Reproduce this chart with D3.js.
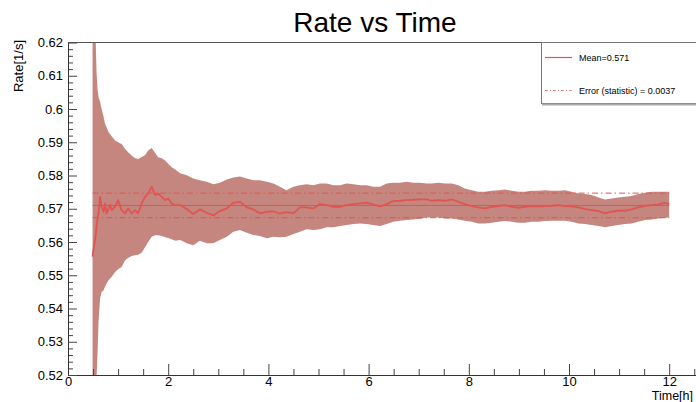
<!DOCTYPE html>
<html>
<head>
<meta charset="utf-8">
<script src="https://cdn.jsdelivr.net/npm/d3@7"></script>
<style>
  html, body { margin: 0; padding: 0; background: #fff; }
  svg { display: block; }
  text { font-family: "Liberation Sans", Arial, Helvetica, sans-serif; fill: #000; }
</style>
</head>
<body>
<script>
// Running mean of the count rate versus elapsed time, with its statistical band
const time = [
  0.49,0.52,0.55,0.57,0.59,0.61,0.64,0.67,0.71,0.74,0.77,0.81,0.84,0.87,0.94,1.00,1.07,1.14,1.20,1.27,
  1.34,1.40,1.47,1.54,1.60,1.67,1.74,1.80,1.87,1.94,2.00,2.07,2.14,
  2.24,2.37,2.50,2.63,2.77,2.90,3.03,3.17,3.30,3.43,3.57,3.70,3.83,3.97,4.10,4.23,4.36,4.50,4.63,4.76,
  4.90,5.03,5.16,5.30,5.43,5.56,5.70,5.83,5.96,6.09,6.23,6.36,6.49,6.63,6.76,6.89,7.03,7.16,
  7.26,7.39,7.53,7.66,7.79,7.92,8.06,8.19,8.32,8.46,8.59,8.72,8.86,8.99,9.12,9.25,9.39,9.52,9.65,9.79,
  9.92,10.05,10.19,10.32,10.45,10.59,10.72,10.85,10.98,11.12,11.25,11.38,11.52,11.65,11.78,11.92,12.00
];
const rate = [
  .5556,.5590,.5615,.5646,.5670,.5690,.5736,.5706,.5691,.5716,.5686,.5701,.5712,.5696,.5706,.5726,.5696,.5686,.5701,.5686,
  .5696,.5686,.5716,.5736,.5746,.5766,.5741,.5746,.5736,.5726,.5731,.5716,.5711,
  .5711,.5699,.5684,.5698,.5688,.5680,.5693,.5701,.5718,.5721,.5704,.5698,.5686,.5691,.5692,.5685,.5690,.5686,.5704,.5704,
  .5701,.5714,.5711,.5706,.5706,.5711,.5714,.5716,.5718,.5713,.5707,.5714,.5723,.5724,.5726,.5727,.5728,.5728,
  .5724,.5726,.5724,.5728,.5721,.5714,.5708,.5704,.5701,.5706,.5708,.5711,.5706,.5703,.5706,.5708,.5707,.5708,.5709,.5711,
  .5708,.5707,.5704,.5699,.5696,.5693,.5686,.5691,.5694,.5694,.5698,.5704,.5709,.5711,.5713,.5718,.5714
];
const rateHigh = [
  .640,.635,.622,.611,.606,.6035,.6022,.6000,.5977,.5955,.5945,.5930,.5925,.5918,.5905,.5900,.5895,.5880,.5870,.5860,
  .5852,.5850,.5856,.5862,.5875,.5883,.5868,.5855,.5852,.5845,.5835,.5825,.5818,
  .5807,.5801,.5791,.5786,.5781,.5774,.5778,.5788,.5794,.5797,.5791,.5786,.5786,.5781,.5776,.5766,.5756,.5766,.5771,.5774,
  .5771,.5776,.5776,.5771,.5771,.5776,.5774,.5771,.5771,.5766,.5766,.5776,.5778,.5778,.5781,.5778,.5778,.5776,
  .5776,.5778,.5776,.5776,.5771,.5761,.5756,.5751,.5751,.5754,.5756,.5758,.5754,.5751,.5751,.5754,.5754,.5756,.5754,.5754,
  .5756,.5751,.5746,.5744,.5741,.5734,.5728,.5731,.5734,.5736,.5738,.5744,.5748,.5751,.5751,.5751,.5751
];
const rateLow = [
  .505,.508,.512,.519,.527,.536,.543,.545,.5455,.5466,.5475,.5485,.549,.5495,.551,.5518,.5525,.5545,.5552,.5558,
  .5560,.5562,.5568,.5585,.5600,.5616,.5620,.5620,.5618,.5614,.5612,.5608,.5604,
  .5606,.5596,.5590,.5604,.5596,.5596,.5606,.5616,.5631,.5636,.5628,.5621,.5618,.5611,.5616,.5614,.5616,.5624,.5631,.5638,
  .5636,.5638,.5644,.5644,.5648,.5651,.5654,.5656,.5654,.5651,.5648,.5654,.5661,.5664,.5666,.5668,.5670,.5674,
  .5674,.5674,.5671,.5671,.5668,.5664,.5661,.5656,.5656,.5658,.5661,.5663,.5661,.5658,.5658,.5661,.5661,.5663,.5664,.5664,
  .5664,.5661,.5656,.5654,.5651,.5648,.5644,.5648,.5651,.5654,.5656,.5661,.5666,.5668,.5671,.5673,.5674
];
const meanValue = 0.571;
const statError = 0.0037;
const xTicks = [0, 2, 4, 6, 8, 10, 12];
const yTicks = [0.52, 0.53, 0.54, 0.55, 0.56, 0.57, 0.58, 0.59, 0.60, 0.61, 0.62];
const yTickLabels = ["0.52", "0.53", "0.54", "0.55", "0.56", "0.57", "0.58", "0.59", "0.6", "0.61", "0.62"];
const titleText = "Rate vs Time";
const xTitle = "Time[h]";
const yTitle = "Rate[1/s]";
const legendLabels = ["Mean=0.571", "Error (statistic) = 0.0037"];

const W = 696, H = 402;
const plotLeft = 68, plotTop = 42.5, plotBottom = 375;
const bandColor = "#c4867f";
const lineColor = "#e05550";

const svg = d3.select("body").append("svg").attr("width", W).attr("height", H);

const x = d3.scaleLinear().domain([0, 12.6]).range([plotLeft, plotLeft + 50.1 * 12.6]);
const y = d3.scaleLinear().domain([0.52, 0.62]).range([plotBottom, plotTop]);

const pts = time.map((t, i) => ({ t, v: rate[i], lo: rateLow[i], hi: rateHigh[i] }));

svg.append("defs").append("clipPath").attr("id", "plotClip")
  .append("rect").attr("x", plotLeft).attr("y", plotTop)
  .attr("width", W - plotLeft).attr("height", plotBottom - plotTop);

const plot = svg.append("g").attr("clip-path", "url(#plotClip)");

// statistical band
plot.append("path")
  .datum(pts)
  .attr("fill", bandColor)
  .attr("d", d3.area().x(d => x(d.t)).y0(d => y(d.lo)).y1(d => y(d.hi)));

// overall mean and its error
const t0 = time[0], t1 = time[time.length - 1];
plot.append("line")
  .attr("x1", x(t0)).attr("x2", x(t1))
  .attr("y1", y(meanValue)).attr("y2", y(meanValue))
  .attr("stroke", lineColor).attr("stroke-width", 1);
[meanValue + statError, meanValue - statError].forEach(v => {
  plot.append("line")
    .attr("x1", x(t0)).attr("x2", x(t1))
    .attr("y1", y(v)).attr("y2", y(v))
    .attr("stroke", lineColor).attr("stroke-width", 1)
    .attr("stroke-dasharray", "6,3,1.5,3");
});

// running mean
plot.append("path")
  .datum(pts)
  .attr("fill", "none")
  .attr("stroke", lineColor)
  .attr("stroke-width", 1.8)
  .attr("stroke-linejoin", "round")
  .attr("d", d3.line().x(d => x(d.t)).y(d => y(d.v)));

// frame top edge
svg.append("line").attr("x1", plotLeft).attr("x2", W).attr("y1", plotTop).attr("y2", plotTop)
  .attr("stroke", "#555").attr("stroke-width", 1);

// x axis
const minorX = d3.range(0.5, 12.6, 0.5).filter(v => Math.abs(v / 2 - Math.round(v / 2)) > 1e-6);
svg.append("g").attr("transform", `translate(0,${plotBottom})`)
  .call(d3.axisBottom(x).tickValues(minorX).tickSize(-6).tickSizeOuter(0).tickFormat(""))
  .call(g => g.select(".domain").remove())
  .call(g => g.selectAll("line").attr("stroke", "#444"));
svg.append("g").attr("transform", `translate(0,${plotBottom})`)
  .call(d3.axisBottom(x).tickValues(xTicks).tickSize(-11).tickSizeOuter(0).tickPadding(1.5).tickFormat(d3.format("d")))
  .call(g => g.select(".domain").attr("stroke", "#333"))
  .call(g => g.selectAll("line").attr("stroke", "#444"))
  .call(g => g.selectAll("text").attr("font-size", 13).attr("fill", "#000")
    .attr("font-family", "'Liberation Sans', Arial, sans-serif"));

// y axis
const minorY = d3.range(0, 51).map(i => 0.52 + i * 0.002).filter((v, i) => i % 5 !== 0);
svg.append("g").attr("transform", `translate(${plotLeft},0)`)
  .call(d3.axisLeft(y).tickValues(minorY).tickSize(-5).tickSizeOuter(0).tickFormat(""))
  .call(g => g.select(".domain").remove())
  .call(g => g.selectAll("line").attr("stroke", "#444"));
svg.append("g").attr("transform", `translate(${plotLeft},0)`)
  .call(d3.axisLeft(y).tickValues(yTicks).tickSize(-9).tickSizeOuter(0).tickPadding(5)
    .tickFormat((d, i) => yTickLabels[i]))
  .call(g => g.select(".domain").attr("stroke", "#333"))
  .call(g => g.selectAll("line").attr("stroke", "#444"))
  .call(g => g.selectAll("text").attr("font-size", 13).attr("fill", "#000")
    .attr("font-family", "'Liberation Sans', Arial, sans-serif"));

// titles
svg.append("text").attr("x", 375).attr("y", 32).attr("text-anchor", "middle")
  .attr("font-size", 28).text(titleText);
svg.append("text").attr("x", 693).attr("y", 400).attr("text-anchor", "end")
  .attr("font-size", 12.5).text(xTitle);
svg.append("text").attr("transform", "translate(22.5,40) rotate(-90)")
  .attr("text-anchor", "end").attr("font-size", 13).text(yTitle);

// legend
const lg = svg.append("g");
lg.append("rect").attr("x", 541.5).attr("y", plotTop).attr("width", 170).attr("height", 61)
  .attr("fill", "#fff").attr("stroke", "#777").attr("stroke-width", 1);
lg.append("line").attr("x1", 542).attr("x2", W).attr("y1", plotTop + 62).attr("y2", plotTop + 62)
  .attr("stroke", "#aaa").attr("stroke-width", 2);
lg.append("line").attr("x1", 545).attr("x2", 572).attr("y1", 57.5).attr("y2", 57.5)
  .attr("stroke", lineColor).attr("stroke-width", 1.2);
lg.append("text").attr("x", 579).attr("y", 61).attr("font-size", 9).text(legendLabels[0]);
lg.append("line").attr("x1", 545).attr("x2", 572).attr("y1", 90.5).attr("y2", 90.5)
  .attr("stroke", "#e2888a").attr("stroke-width", 1).attr("stroke-dasharray", "3,2,1,2");
lg.append("text").attr("x", 579).attr("y", 94).attr("font-size", 9).text(legendLabels[1]);
</script>
</body>
</html>
